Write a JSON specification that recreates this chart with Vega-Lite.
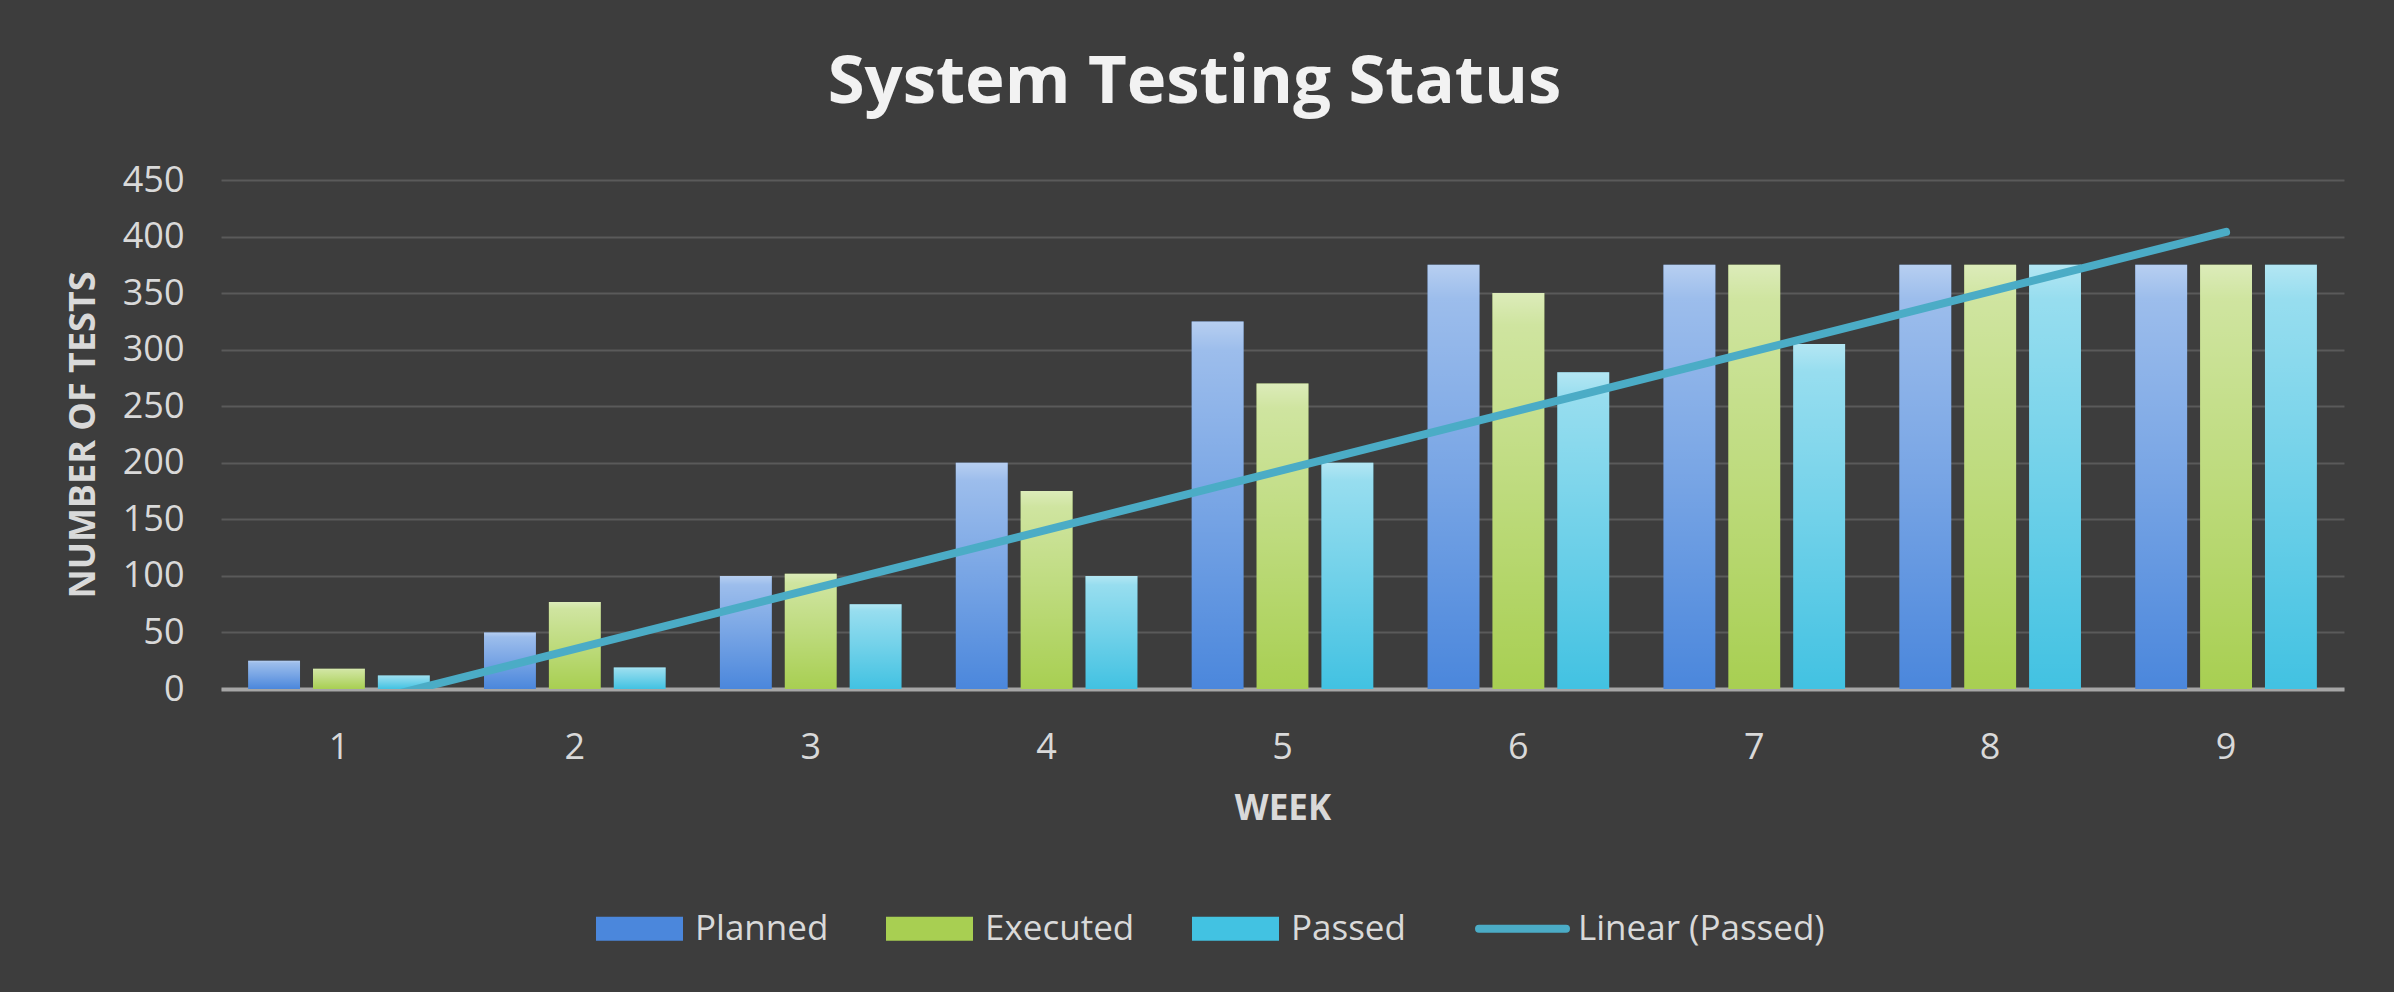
{
  "$schema": "https://vega.github.io/schema/vega-lite/v6.json",
  "width": 2123,
  "height": 509,
  "autosize": {"type": "none"},
  "padding": {"left": 221, "top": 180, "right": 50, "bottom": 303},
  "background": "#3d3d3d",
  "title": {
    "text": "System Testing Status",
    "font": "Open Sans",
    "fontSize": 67,
    "fontWeight": "bold",
    "color": "#f2f2f2",
    "anchor": "middle",
    "frame": "group",
    "dx": -88,
    "offset": 45
  },
  "config": {
    "view": {"stroke": null},
    "font": "Open Sans"
  },
  "datasets": {
    "bars": [
      {"week": 1, "series": "Planned", "value": 25},
      {"week": 1, "series": "Executed", "value": 18},
      {"week": 1, "series": "Passed", "value": 12},
      {"week": 2, "series": "Planned", "value": 50},
      {"week": 2, "series": "Executed", "value": 77},
      {"week": 2, "series": "Passed", "value": 19},
      {"week": 3, "series": "Planned", "value": 100},
      {"week": 3, "series": "Executed", "value": 102},
      {"week": 3, "series": "Passed", "value": 75},
      {"week": 4, "series": "Planned", "value": 200},
      {"week": 4, "series": "Executed", "value": 175},
      {"week": 4, "series": "Passed", "value": 100},
      {"week": 5, "series": "Planned", "value": 325},
      {"week": 5, "series": "Executed", "value": 270},
      {"week": 5, "series": "Passed", "value": 200},
      {"week": 6, "series": "Planned", "value": 375},
      {"week": 6, "series": "Executed", "value": 350},
      {"week": 6, "series": "Passed", "value": 280},
      {"week": 7, "series": "Planned", "value": 375},
      {"week": 7, "series": "Executed", "value": 375},
      {"week": 7, "series": "Passed", "value": 305},
      {"week": 8, "series": "Planned", "value": 375},
      {"week": 8, "series": "Executed", "value": 375},
      {"week": 8, "series": "Passed", "value": 375},
      {"week": 9, "series": "Planned", "value": 375},
      {"week": 9, "series": "Executed", "value": 375},
      {"week": 9, "series": "Passed", "value": 375}
    ],
    "trend": [
      {"week": 1, "value": -17.3},
      {"week": 9, "value": 404.1}
    ]
  },
  "layer": [
    {
      "data": {"name": "bars"},
      "mark": {"type": "bar"},
      "encoding": {
        "x": {
          "field": "week",
          "type": "ordinal",
          "scale": {"paddingInner": 0.23, "paddingOuter": 0.115},
          "axis": {
            "title": "WEEK",
            "labelAngle": 0,
            "labelFontSize": 36,
            "labelColor": "#d9d9d9",
            "labelPadding": 41,
            "titleFontSize": 35,
            "titleFontWeight": "bold",
            "titleColor": "#d9d9d9",
            "titlePadding": 26,
            "ticks": false,
            "grid": false,
            "domainColor": "#a6a6a6",
            "domainWidth": 4
          }
        },
        "xOffset": {
          "field": "series",
          "type": "nominal",
          "scale": {"domain": ["Planned", "Executed", "Passed"], "paddingInner": 0.2, "paddingOuter": 0}
        },
        "y": {
          "field": "value",
          "type": "quantitative",
          "scale": {"domain": [0, 450], "nice": false},
          "axis": {
            "title": "NUMBER OF TESTS",
            "values": [0, 50, 100, 150, 200, 250, 300, 350, 400, 450],
            "labelFontSize": 36,
            "labelColor": "#d9d9d9",
            "labelPadding": 37,
            "titleFontSize": 36,
            "titleFontWeight": "bold",
            "titleColor": "#d9d9d9",
            "titlePadding": 20,
            "ticks": false,
            "domain": false,
            "grid": true,
            "gridColor": "#5a5a5a",
            "gridWidth": 2
          }
        },
        "color": {
          "field": "series",
          "type": "nominal",
          "scale": {
            "domain": ["Planned", "Executed", "Passed", "Linear (Passed)"],
            "range": ["#4b87dc", "#a8cf52", "#42c2e2", "#4bacc6"]
          },
          "legend": {
            "title": null,
            "orient": "none",
            "direction": "horizontal",
            "legendX": 401,
            "legendY": 731,
            "padding": 0,
            "labelFont": "Open Sans",
            "labelFontSize": 35,
            "labelColor": "#d9d9d9",
            "labelOffset": 38,
            "labelLimit": 500,
            "columnPadding": 57,
            "symbolSize": 7569,
            "symbolType": "M-1,-0.276H1V0.276H-1Z",
            "encode": {
              "symbols": {
                "update": {
                  "shape": {"signal": "datum.value === 'Linear (Passed)' ? 'M-1,0H1' : 'M-1,-0.276H1V0.276H-1Z'"},
                  "fill": {"scale": "color", "field": "value"},
                  "stroke": {"scale": "color", "field": "value"},
                  "strokeWidth": {"signal": "datum.value === 'Linear (Passed)' ? 8 : 0"},
                  "strokeCap": {"value": "round"},
                  "opacity": {"value": 1}
                }
              }
            }
          }
        }
      }
    },
    {
      "data": {"name": "bars"},
      "mark": {
        "type": "bar",
        "fill": {
          "gradient": "linear",
          "x1": 0, "y1": 0, "x2": 0, "y2": 1,
          "stops": [
            {"offset": 0, "color": "rgba(255,255,255,0.6)"},
            {"offset": 0.08, "color": "rgba(255,255,255,0.45)"},
            {"offset": 0.5, "color": "rgba(255,255,255,0.25)"},
            {"offset": 1, "color": "rgba(255,255,255,0)"}
          ]
        }
      },
      "encoding": {
        "x": {"field": "week", "type": "ordinal"},
        "xOffset": {"field": "series", "type": "nominal"},
        "y": {"field": "value", "type": "quantitative"}
      }
    },
    {
      "data": {"name": "trend"},
      "mark": {"type": "line", "strokeWidth": 8, "strokeCap": "round", "clip": true},
      "encoding": {
        "x": {"field": "week", "type": "ordinal"},
        "y": {"field": "value", "type": "quantitative"},
        "color": {"datum": "Linear (Passed)"}
      }
    }
  ]
}
